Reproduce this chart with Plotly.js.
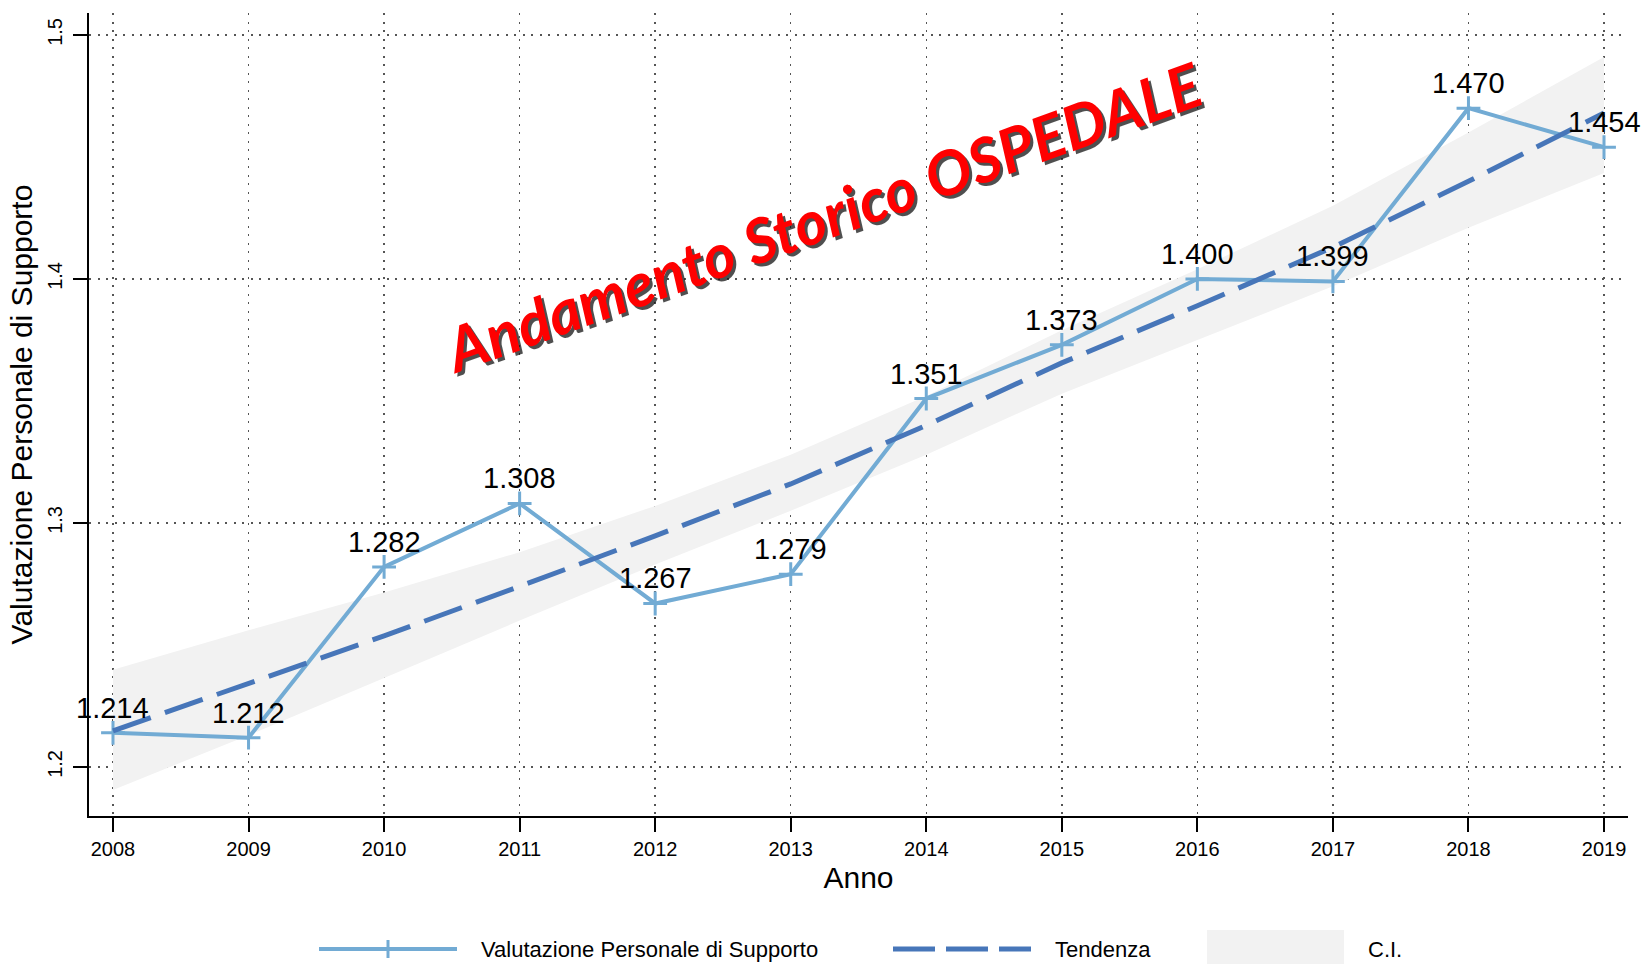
<!DOCTYPE html>
<html>
<head>
<meta charset="utf-8">
<script src="https://cdn.plot.ly/plotly-3.0.1.min.js"></script>
<style>
  html, body { margin: 0; padding: 0; background: #ffffff; }
  #chart { width: 1642px; height: 964px; }
</style>
</head>
<body>
<div id="chart"></div>
<script>
// ---- data ----
const years = [2008, 2009, 2010, 2011, 2012, 2013, 2014, 2015, 2016, 2017, 2018, 2019];
const valutazione = [1.214, 1.212, 1.282, 1.308, 1.267, 1.279, 1.351, 1.373, 1.400, 1.399, 1.470, 1.454];
const tendenza = [1.2148, 1.234, 1.2537, 1.274, 1.2947, 1.316, 1.340, 1.3656, 1.389, 1.413, 1.440, 1.468];
const ciLow  = [1.1906, 1.213, 1.2365, 1.260, 1.283, 1.305, 1.328, 1.353, 1.375, 1.397, 1.421, 1.4434];
const ciHigh = [1.2398, 1.256, 1.2715, 1.288, 1.307, 1.328, 1.352, 1.379, 1.404, 1.430, 1.460, 1.491];
const yTickVals = [1.2, 1.3, 1.4, 1.5];
const yTickText = ["1.2", "1.3", "1.4", "1.5"];
const seriesName = "Valutazione Personale di Supporto";
const trendName = "Tendenza";
const ciName = "C.I.";
const xTitle = "Anno";
const yTitle = "Valutazione Personale di Supporto";
const bigTitle = "Andamento Storico OSPEDALE";

const FONT = "Liberation Sans, Arial, Helvetica, sans-serif";
const C_LINE = "#72abd4";
const C_TREND = "#4776b9";
const C_BAND = "#f2f2f2";

const traces = [
  { // CI band (lower edge)
    x: years, y: ciLow, type: "scatter", mode: "lines",
    line: { width: 0, color: C_BAND }, hoverinfo: "skip", showlegend: false
  },
  { // CI band (upper edge, filled)
    x: years, y: ciHigh, type: "scatter", mode: "lines", name: ciName,
    fill: "tonexty", fillcolor: C_BAND,
    line: { width: 0, color: C_BAND }, showlegend: false
  },
  {
    x: years, y: valutazione, type: "scatter", mode: "lines+markers",
    name: seriesName,
    line: { color: C_LINE, width: 4 },
    marker: { symbol: "cross-thin", size: 17, color: C_LINE, line: { width: 3, color: C_LINE } },
    cliponaxis: false, showlegend: false
  },
  {
    x: years, y: tendenza, type: "scatter", mode: "lines", name: trendName,
    line: { color: C_TREND, width: 5, dash: "40px,15px" },
    showlegend: false
  }
];

// plot area in pixels
const L = 89, R = 14, T = 13, B = 148, W = 1642, H = 964;

// legend drawn in paper coordinates
const px = (x) => (x - L) / (W - L - R);
const py = (y) => (H - B - y) / (H - T - B);
const legY = 949;

const shapes = [
  { type: "line", xref: "paper", yref: "paper", x0: px(319), x1: px(457), y0: py(legY), y1: py(legY),
    line: { color: C_LINE, width: 4 } },
  { type: "line", xref: "paper", yref: "paper", x0: px(388), x1: px(388), y0: py(legY - 9), y1: py(legY + 9),
    line: { color: C_LINE, width: 3 } },
  { type: "line", xref: "paper", yref: "paper", x0: px(893), x1: px(1031), y0: py(legY), y1: py(legY),
    line: { color: C_TREND, width: 5, dash: "42px,11px" } },
  { type: "rect", xref: "paper", yref: "paper", x0: px(1207), x1: px(1344), y0: py(930), y1: py(966),
    fillcolor: C_BAND, line: { width: 0 } }
];

const annotations = [
  { xref: "paper", yref: "paper", x: px(479), y: py(legY), xanchor: "left", yanchor: "middle",
    text: seriesName, showarrow: false, font: { family: FONT, size: 22, color: "#000" } },
  { xref: "paper", yref: "paper", x: px(1053), y: py(legY), xanchor: "left", yanchor: "middle",
    text: trendName, showarrow: false, font: { family: FONT, size: 22, color: "#000" } },
  { xref: "paper", yref: "paper", x: px(1366), y: py(legY), xanchor: "left", yanchor: "middle",
    text: ciName, showarrow: false, font: { family: FONT, size: 22, color: "#000" } },
  // shadow of the big title
  { xref: "paper", yref: "paper", x: px(822), y: py(216), xanchor: "center", yanchor: "middle",
    xshift: 3, yshift: -3,
    text: "<b><i>" + bigTitle + "</i></b>", textangle: -19.8, showarrow: false,
    font: { family: "Comic Sans MS, Lato, DejaVu Sans", size: 61, color: "rgba(20,20,20,0.75)" } },
  { xref: "paper", yref: "paper", x: px(822), y: py(216), xanchor: "center", yanchor: "middle",
    text: "<b><i>" + bigTitle + "</i></b>", textangle: -19.8, showarrow: false,
    font: { family: "Comic Sans MS, Lato, DejaVu Sans", size: 61, color: "#ff0000" } }
];

// value labels above each point, positioned through the data axes
years.forEach((yr, i) => {
  annotations.push({
    xref: "x", yref: "y", x: yr, y: valutazione[i],
    xanchor: "center", yanchor: "middle", yshift: 25,
    text: valutazione[i].toFixed(3), showarrow: false,
    font: { family: FONT, size: 29, color: "#000" }
  });
});

const layout = {
  width: W, height: H,
  margin: { l: L, r: R, t: T, b: B, pad: 0 },
  paper_bgcolor: "#ffffff", plot_bgcolor: "#ffffff",
  showlegend: false,
  font: { family: FONT, color: "#000" },
  xaxis: {
    range: [2007.823, 2019.177],
    tickmode: "array", tickvals: years, ticktext: years.map(String),
    ticks: "outside", ticklen: 14, tickwidth: 2, tickcolor: "#000",
    showline: true, linecolor: "#000", linewidth: 2,
    showgrid: true, gridcolor: "#555555", gridwidth: 1.5, griddash: "2px,6.5px",
    zeroline: false,
    tickfont: { family: FONT, size: 20, color: "#000" },
    title: { text: xTitle, font: { family: FONT, size: 30, color: "#000" }, standoff: 8 },
    automargin: false
  },
  yaxis: {
    range: [1.1799, 1.509],
    tickmode: "array", tickvals: yTickVals, ticktext: yTickText,
    ticks: "outside", ticklen: 14, tickwidth: 2, tickcolor: "#000",
    tickangle: -90, ticklabelstandoff: 3,
    showline: true, linecolor: "#000", linewidth: 2,
    showgrid: true, gridcolor: "#555555", gridwidth: 1.5, griddash: "2px,6.5px",
    zeroline: false,
    tickfont: { family: FONT, size: 20, color: "#000" },
    title: { text: yTitle, font: { family: FONT, size: 30, color: "#000" }, standoff: 3 },
    automargin: false
  },
  shapes: shapes,
  annotations: annotations
};

Plotly.newPlot("chart", traces, layout, { displayModeBar: false, staticPlot: true });
</script>
</body>
</html>
